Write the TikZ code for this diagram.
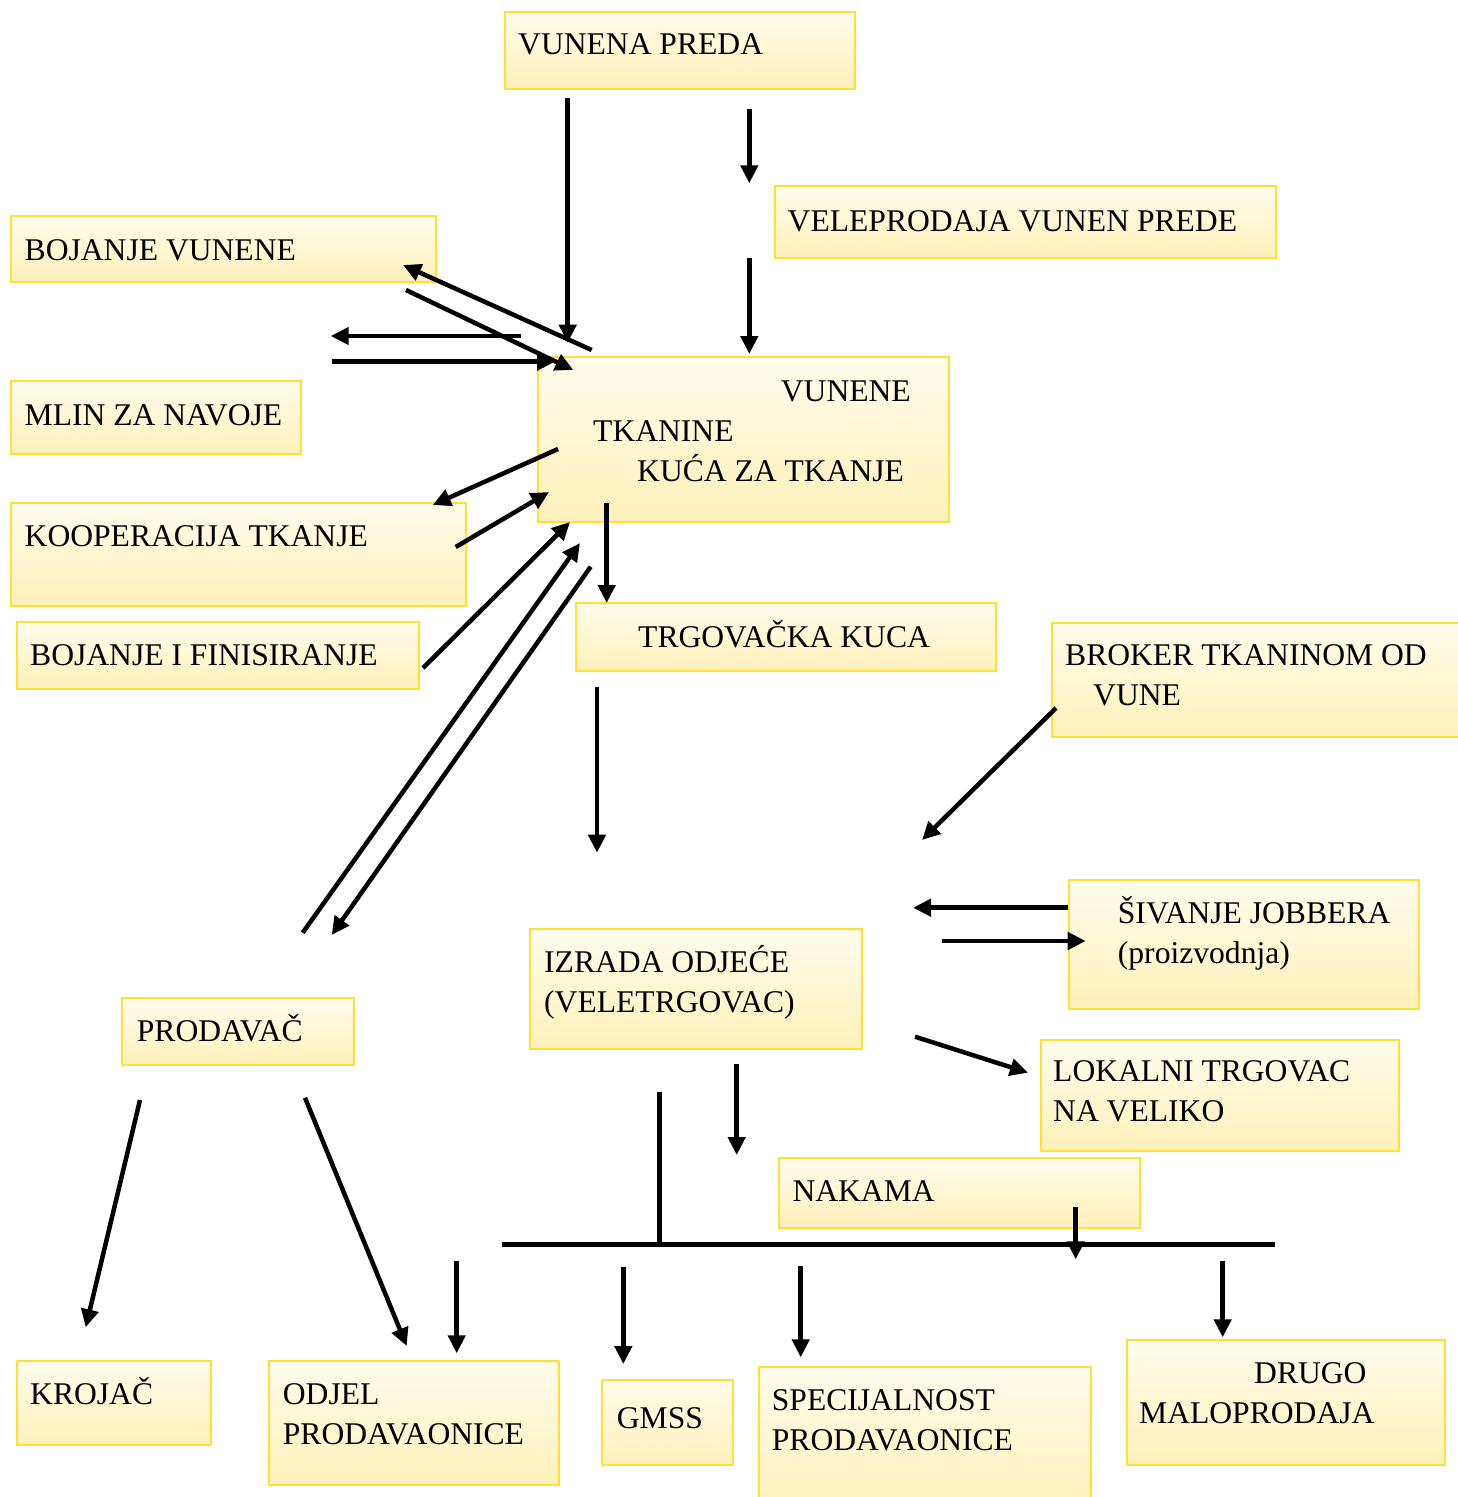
\documentclass[tikz,border=0pt]{standalone}
\usepackage{fontspec}
\setmainfont{Liberation Serif}
\usetikzlibrary{arrows.meta}
\definecolor{boxline}{HTML}{FFE033}
\definecolor{boxtop}{HTML}{FFFCEC}
\definecolor{boxbot}{HTML}{FFF0BA}
\tikzstyle{box}=[draw=boxline,line width=2pt,rectangle,anchor=north west,top color=boxtop,bottom color=boxbot,inner sep=0pt]
\tikzstyle{txt}=[anchor=base west,inner sep=0pt,align=left,font=\fontsize{31.6}{40}\selectfont]
\tikzstyle{arr}=[line width=4.5pt,-{Triangle[length=18pt,width=17pt]}]
\tikzstyle{bar}=[line width=5pt]

\begin{document}
\begin{tikzpicture}[x=1pt,y=-1pt]
	\useasboundingbox (0,0) rectangle (1457,1497);
	% boxes
	\node(preda)[box,minimum width=350pt,minimum height=77pt] at (504,11){};
	\node(velep)[box,minimum width=501pt,minimum height=72pt] at (774,185){};
	\node(bojv)[box,minimum width=425pt,minimum height=66pt] at (10,215){};
	\node(mlin)[box,minimum width=290pt,minimum height=73pt] at (10,380){};
	\node(kuca)[box,minimum width=411pt,minimum height=165pt] at (537,356){};
	\node(koop)[box,minimum width=455pt,minimum height=103pt] at (10,502){};
	\node(bojf)[box,minimum width=402pt,minimum height=67pt] at (16,621){};
	\node(trg)[box,minimum width=420pt,minimum height=68pt] at (575,602){};
	\node(broker)[box,minimum width=420pt,minimum height=114pt] at (1051,622){};
	\node(sivanje)[box,minimum width=350pt,minimum height=129pt] at (1068,879){};
	\node(izrada)[box,minimum width=332pt,minimum height=120pt] at (529,928){};
	\node(prodavac)[box,minimum width=232pt,minimum height=67pt] at (121,997){};
	\node(lokalni)[box,minimum width=358pt,minimum height=111pt] at (1040,1039){};
	\node(nakama)[box,minimum width=361pt,minimum height=70pt] at (778,1157){};
	\node(krojac)[box,minimum width=194pt,minimum height=84pt] at (16,1360){};
	\node(odjel)[box,minimum width=290pt,minimum height=124pt] at (268,1360){};
	\node(gmss)[box,minimum width=131pt,minimum height=85pt] at (601,1379){};
	\node(spec)[box,minimum width=332pt,minimum height=140pt] at (758,1366){};
	\node(drugo)[box,minimum width=318pt,minimum height=125pt] at (1126,1339){};

	% texts (multi-line ones sit on their last line)
	\node(preda-t)[txt] at (518,54.3){VUNENA PREDA};
	\node(velep-t)[txt] at (787.5,231.7){VELEPRODAJA VUNEN PREDE};
	\node(bojv-t)[txt] at (24.5,260.7){BOJANJE VUNENE};
	\node(mlin-t)[txt] at (24.5,425.7){MLIN ZA NAVOJE};
	\node(kuca-t)[txt] at (593,481){\hspace*{187.7pt}VUNENE\\TKANINE\\\hspace*{44pt}KUĆA ZA TKANJE};
	\node(koop-t)[txt] at (24.5,546.5){KOOPERACIJA TKANJE};
	\node(bojf-t)[txt] at (30,665.5){BOJANJE I FINISIRANJE};
	\node(trg-t)[txt] at (638,647.5){TRGOVAČKA KUCA};
	\node(broker-t)[txt] at (1065,705.7){BROKER TKANINOM OD\\\hspace*{28pt}VUNE};
	\node(sivanje-t)[txt] at (1117.7,963){ŠIVANJE JOBBERA\\(proizvodnja)};
	\node(izrada-t)[txt] at (544,1012.5){IZRADA ODJEĆE\\(VELETRGOVAC)};
	\node(prodavac-t)[txt] at (136.7,1041.7){PRODAVAČ};
	\node(lokalni-t)[txt] at (1053,1121.7){LOKALNI TRGOVAC\\NA VELIKO};
	\node(nakama-t)[txt] at (792.3,1201.7){NAKAMA};
	\node(krojac-t)[txt] at (30,1404.3){KROJAČ};
	\node(odjel-t)[txt] at (282.7,1444.3){ODJEL\\PRODAVAONICE};
	\node(gmss-t)[txt] at (616.7,1428.3){GMSS};
	\node(spec-t)[txt] at (771.7,1450){SPECIJALNOST\\PRODAVAONICE};
	\node(drugo-t)[txt] at (1139,1423.3){\hspace*{115pt}DRUGO\\MALOPRODAJA};

	% arrow ends
	\coordinate(a0) at (567.7,97.7);   \coordinate(a1) at (567.7,342.7);
	\coordinate(b0) at (749.3,109);    \coordinate(b1) at (749.3,183.3);
	\coordinate(c0) at (749.3,257.7);  \coordinate(c1) at (749.3,354);
	\coordinate(d0) at (591.7,350);    \coordinate(d1) at (403,265);
	\coordinate(e0) at (406,290);      \coordinate(e1) at (573.3,370);
	\coordinate(f0) at (521,336);      \coordinate(f1) at (330.7,336);
	\coordinate(g0) at (331.7,361.7);  \coordinate(g1) at (555,361.7);
	\coordinate(h0) at (558,449);      \coordinate(h1) at (432.7,505);
	\coordinate(i0) at (455.7,547);    \coordinate(i1) at (549,492);
	\coordinate(j0) at (423,668);      \coordinate(j1) at (570,522);
	\coordinate(k0) at (302.7,932.7);  \coordinate(k1) at (580,543);
	\coordinate(l0) at (590.7,566.7);  \coordinate(l1) at (331.7,935);
	\coordinate(m0) at (606.7,503);    \coordinate(m1) at (606.7,603);
	\coordinate(n0) at (597,686.7);    \coordinate(n1) at (597,852.7);
	\coordinate(o0) at (1056,708);     \coordinate(o1) at (922,840);
	\coordinate(p0) at (1068,907.7);   \coordinate(p1) at (913,907.7);
	\coordinate(q0) at (942,941);      \coordinate(q1) at (1085.7,941);
	\coordinate(r0) at (915,1036.7);   \coordinate(r1) at (1028,1072.7);
	\coordinate(s0) at (736.7,1064);   \coordinate(s1) at (736.7,1155);
	\coordinate(t0) at (659.3,1091.7); \coordinate(t1) at (659.3,1244.3);
	\coordinate(u0) at (502.3,1244.3); \coordinate(u1) at (1275,1244.3);
	\coordinate(v0) at (1075.7,1206.7);\coordinate(v1) at (1075.7,1259.3);
	\coordinate(w0) at (140,1100);     \coordinate(w1) at (85.7,1327.3);
	\coordinate(x0) at (305,1097.7);   \coordinate(x1) at (406.7,1346);
	\coordinate(y0) at (456.7,1260.7); \coordinate(y1) at (456.7,1353.3);
	\coordinate(z0) at (623.3,1267.3); \coordinate(z1) at (623.3,1364);
	\coordinate(aa0) at (800.7,1265.7);\coordinate(aa1) at (800.7,1357.3);
	\coordinate(bb0) at (1222.7,1261); \coordinate(bb1) at (1222.7,1337.3);

	\path[bar] (t0) edge (t1)
	           (u0) edge (u1);
	\path[arr] (a0) edge (a1)
	           (b0) edge (b1)
	           (c0) edge (c1)
	           (d0) edge (d1)
	           (e0) edge (e1)
	           (f0) edge (f1)
	           (g0) edge (g1)
	           (h0) edge (h1)
	           (i0) edge (i1)
	           (j0) edge (j1)
	           (k0) edge (k1)
	           (l0) edge (l1)
	           (m0) edge (m1)
	           (n0) edge (n1)
	           (o0) edge (o1)
	           (p0) edge (p1)
	           (q0) edge (q1)
	           (r0) edge (r1)
	           (s0) edge (s1)
	           (v0) edge (v1)
	           (w0) edge (w1)
	           (x0) edge (x1)
	           (y0) edge (y1)
	           (z0) edge (z1)
	           (aa0) edge (aa1)
	           (bb0) edge (bb1);
\end{tikzpicture}
\end{document}
